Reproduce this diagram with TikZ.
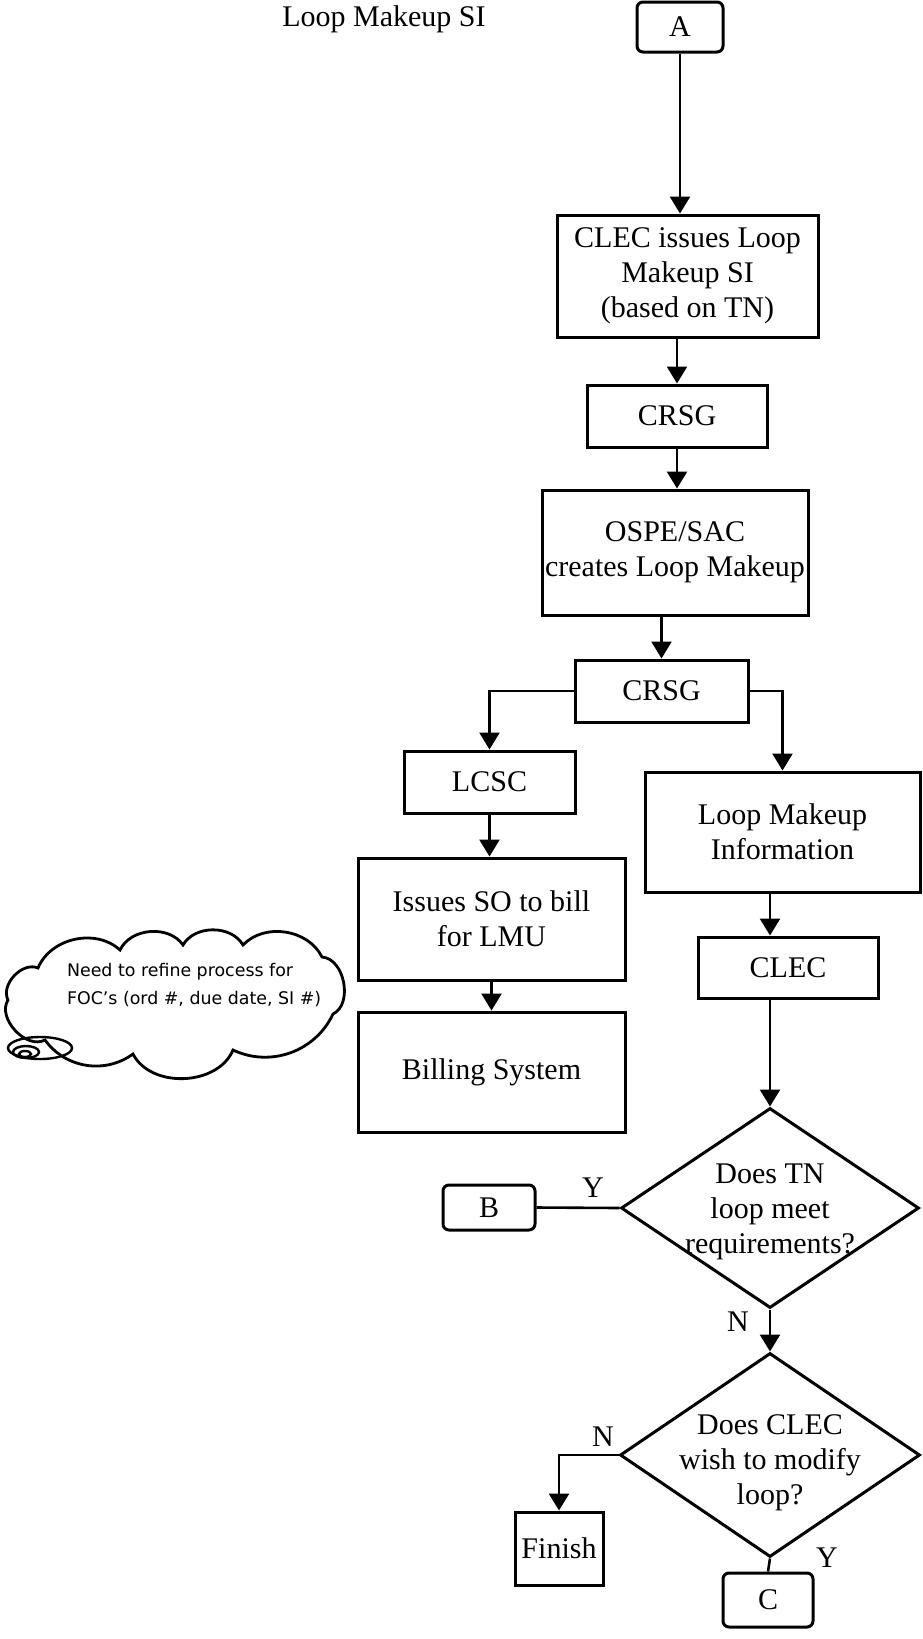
\documentclass[tikz,border=0pt]{standalone}
\usepackage{fontspec}
\setmainfont{Liberation Serif}
\newfontfamily\notefont{DejaVu Sans}
\usetikzlibrary{arrows.meta,shapes.geometric}

\begin{document}
\begin{tikzpicture}[x=0.5pt,y=-0.5pt,>={Triangle[length=8.5pt,width=10pt]},
  font=\fontsize{15}{17.5}\selectfont,
  box/.style={draw,line width=1.5pt,align=center,inner sep=0pt},
  term/.style={box,rounded corners=3pt},
  ask/.style={draw,diamond,line width=1.5pt,inner sep=0pt},
  line/.style={line width=1.3pt}]
  \useasboundingbox (0,0) rectangle (922,1639);
  \node (title) at (384,19) {Loop Makeup SI};
  \node[term,minimum width=43pt,minimum height=25pt] (A) at (680,27) {A};
  \node[box,minimum width=130.5pt,minimum height=61pt] (clecsi) at (687.5,276) {CLEC issues Loop\\Makeup SI\\(based on TN)};
  \node[box,minimum width=90pt,minimum height=31pt] (crsga) at (677,416) {CRSG};
  \node[box,minimum width=133pt,minimum height=62.5pt] (ospe) at (675,552.5) {OSPE/SAC\\creates Loop Makeup};
  \node[box,minimum width=86.5pt,minimum height=31pt] (crsgb) at (661.5,691) {CRSG};
  \node[box,minimum width=85.5pt,minimum height=31pt] (lcsc) at (489.5,782) {LCSC};
  \node[box,minimum width=137.5pt,minimum height=60pt] (lmi) at (782.5,832) {Loop Makeup\\Information};
  \node[box,minimum width=133.5pt,minimum height=61pt] (issues) at (491.5,919) {Issues SO to bill\\for LMU};
  \node[box,minimum width=133.5pt,minimum height=60pt] (billing) at (491.5,1072) {Billing System};
  \node[box,minimum width=90pt,minimum height=30.5pt] (clec) at (788,967.5) {CLEC};
  \node[ask,minimum width=149pt,minimum height=100pt,
    label={[align=center,yshift=-2pt]center:Does TN\\loop meet\\requirements?}] (dtn) at (770,1208) {};
  \node[ask,minimum width=150pt,minimum height=102pt,
    label={[align=center,yshift=-4pt]center:Does CLEC\\wish to modify\\loop?}] (dmod) at (770,1455) {};
  \node[term,minimum width=46pt,minimum height=22.5pt] (B) at (489,1207.5) {B};
  \node[box,minimum width=44pt,minimum height=36.5pt] (finish) at (559,1548.5) {Finish};
  \node[term,minimum width=45pt,minimum height=27pt] (C) at (768,1600) {C};
  \draw[line width=1.4pt] (8,1000) to[bend left=70] (38,968) to[bend left=55] (120,950)
    to[bend left=60] (183,945) to[bend left=60] (243,945) to[bend left=55] (322,957)
    to[bend left=75] (333,1014) to[bend left=45] (233,1050) to[bend left=65] (133,1054)
    to[bend left=45] (45,1040) to[bend left=75] cycle;
  \node[font=\notefont\fontsize{8.7}{14}\selectfont,align=left,anchor=west] (note) at (60,985)
    {Need to refine process for\\FOC’s (ord \#, due date, SI \#)};
  \draw[line width=1.2pt] (40,1048) ellipse (32 and 11);
  \draw[line width=1.2pt] (26,1052) ellipse (13 and 6);
  \draw[line width=1.2pt] (25,1054) ellipse (6 and 3);
  \node (ya) at (593,1188) {Y};
  \node (na) at (738,1322) {N};
  \node (nb) at (603,1437) {N};
  \node (yb) at (827,1558) {Y};
  \draw[line,->] (A.south) -- (A.south |- clecsi.north);
  \draw[line,->] (crsga.north |- clecsi.south) -- (crsga.north);
  \draw[line,->] (crsga.south) -- (crsga.south |- ospe.north);
  \draw[line,->] (crsgb.north |- ospe.south) -- (crsgb.north);
  \draw[line,->] (crsgb.west) -| (lcsc.north);
  \draw[line,->] (crsgb.east) -| (lmi.north);
  \draw[line,->] (lcsc.south) -- (lcsc.south |- issues.north);
  \draw[line,->] (issues.south) -- (billing.north);
  \draw[line,->] (lmi.south -| dtn.north) -- (clec.north -| dtn.north);
  \draw[line,->] (clec.south -| dtn.north) -- (dtn.north);
  \draw[line] (dtn.west) -- (B.east);
  \draw[line,->] (dtn.south) -- (dmod.north);
  \draw[line,->] (dmod.west) -| (finish.north);
  \draw[line] (dmod.south) -- (C.north);
\end{tikzpicture}
\end{document}
